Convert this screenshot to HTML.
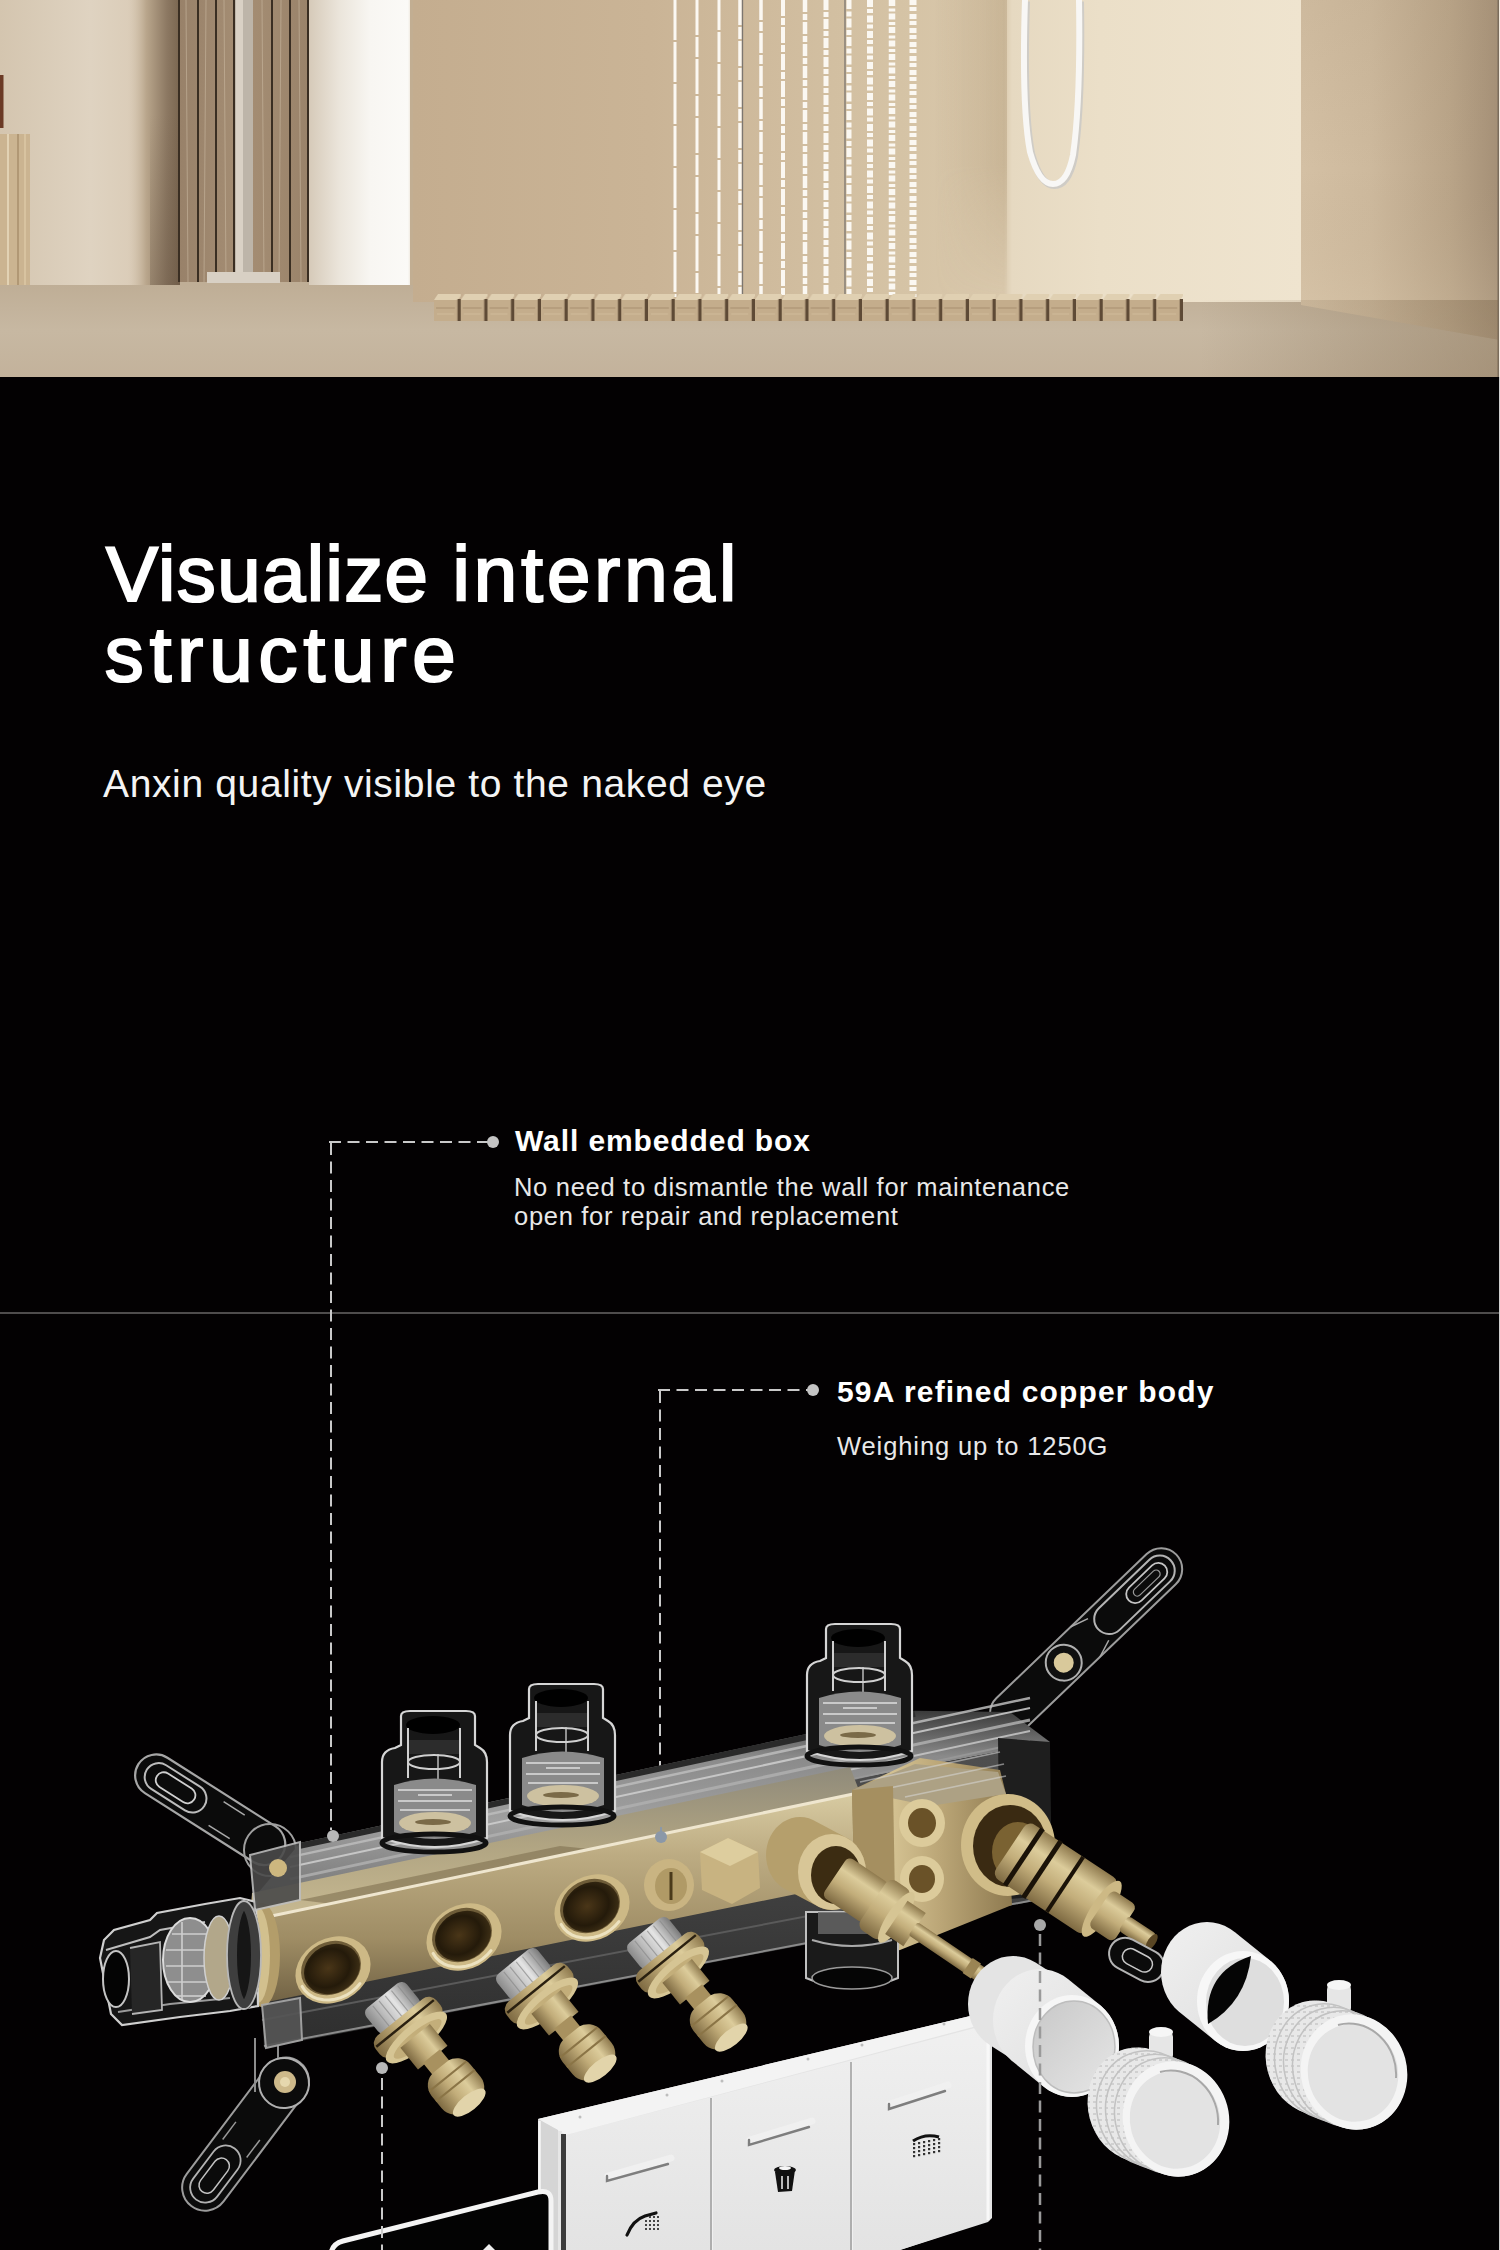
<!DOCTYPE html>
<html><head><meta charset="utf-8">
<style>
html,body{margin:0;padding:0;background:#030102;}
body{width:1500px;height:2250px;overflow:hidden;position:relative;font-family:"Liberation Sans",sans-serif;}
.abs{position:absolute;}
#photo{position:absolute;left:0;top:0;width:1500px;height:377px;}
.hw{position:absolute;color:#fff;font-size:78px;line-height:90px;-webkit-text-stroke:2.2px #fff;white-space:nowrap;}
#sub{position:absolute;left:103px;top:761px;color:#f4f4f4;font-size:39px;line-height:46px;letter-spacing:0.64px;white-space:nowrap;}
.ct{position:absolute;color:#fff;font-size:30px;line-height:34px;font-weight:bold;letter-spacing:0.9px;white-space:nowrap;}
.cd{position:absolute;color:#e8e8e8;font-size:25.5px;line-height:29px;letter-spacing:0.7px;white-space:nowrap;}
#hr{position:absolute;left:0;top:1312px;width:1500px;height:2px;background:#4e4c4c;}
#prod{position:absolute;left:0;top:0;}
</style></head>
<body>
<svg id="photo" width="1500" height="377" viewBox="0 0 1500 377">
  <defs>
    <linearGradient id="lw" x1="0" x2="1" y1="0" y2="0">
      <stop offset="0" stop-color="#d4c5af"/><stop offset="0.5" stop-color="#dfd3c1"/><stop offset="0.72" stop-color="#dbcdb9"/><stop offset="1" stop-color="#d0bfa8"/>
    </linearGradient>
    <linearGradient id="cs" x1="0" x2="1" y1="0" y2="0">
      <stop offset="0" stop-color="#d3c4ae" stop-opacity="0"/><stop offset="0.35" stop-color="#b9a68c"/><stop offset="0.75" stop-color="#8c7862"/><stop offset="1" stop-color="#7a6650"/>
    </linearGradient>
    <linearGradient id="csv" x1="0" x2="0" y1="0" y2="1">
      <stop offset="0" stop-color="#5a4838" stop-opacity="0"/><stop offset="0.4" stop-color="#5a4838" stop-opacity="0"/><stop offset="1" stop-color="#5a4838" stop-opacity="0.3"/>
    </linearGradient>
    <linearGradient id="rw2" x1="0" x2="1" y1="0" y2="0">
      <stop offset="0" stop-color="#d6cab9"/><stop offset="0.3" stop-color="#ebe5db"/><stop offset="0.6" stop-color="#f8f6f2"/><stop offset="0.97" stop-color="#fbfaf7"/><stop offset="1" stop-color="#ece4d8"/>
    </linearGradient>
    <linearGradient id="sw" x1="0" x2="1" y1="0" y2="0">
      <stop offset="0" stop-color="#c4ad8f"/><stop offset="0.266" stop-color="#cab496"/><stop offset="0.547" stop-color="#d5c3a5"/><stop offset="0.664" stop-color="#dac9ad"/><stop offset="0.673" stop-color="#e6d9c1"/><stop offset="0.772" stop-color="#ebdfc8"/><stop offset="1" stop-color="#efe4cf"/>
    </linearGradient>
    <linearGradient id="rw" x1="0" x2="1" y1="0" y2="0">
      <stop offset="0" stop-color="#d4c0a4"/><stop offset="0.35" stop-color="#cdb99d"/><stop offset="0.75" stop-color="#b9a488"/><stop offset="1" stop-color="#a48f76"/>
    </linearGradient>
    <linearGradient id="rwv" x1="0" x2="0" y1="0" y2="1">
      <stop offset="0" stop-color="#a89478" stop-opacity="0.15"/><stop offset="0.5" stop-color="#a89478" stop-opacity="0"/><stop offset="1" stop-color="#e8d8bc" stop-opacity="0.25"/>
    </linearGradient>
    <linearGradient id="fl" gradientUnits="userSpaceOnUse" x1="0" x2="0" y1="285" y2="377">
      <stop offset="0" stop-color="#bfae96"/><stop offset="0.5" stop-color="#c7b8a2"/><stop offset="1" stop-color="#c3b29b"/>
    </linearGradient>
    <linearGradient id="wood" x1="0" x2="1" y1="0" y2="0">
      <stop offset="0" stop-color="#988169"/><stop offset="0.5" stop-color="#a58e74"/><stop offset="1" stop-color="#9a836a"/>
    </linearGradient>
    <linearGradient id="rfl" x1="0" x2="1" y1="0" y2="0">
      <stop offset="0" stop-color="#7a6448" stop-opacity="0"/><stop offset="1" stop-color="#7a6448" stop-opacity="0.4"/>
    </linearGradient>
    <linearGradient id="shb" x1="0" x2="1" y1="0" y2="0">
      <stop offset="0" stop-color="#a08660" stop-opacity="0"/><stop offset="0.75" stop-color="#a08660" stop-opacity="0.22"/><stop offset="1" stop-color="#a08660" stop-opacity="0.3"/>
    </linearGradient>
    <linearGradient id="shm" x1="0" x2="0" y1="0" y2="1">
      <stop offset="0" stop-color="#fff"/><stop offset="0.55" stop-color="#fff"/><stop offset="1" stop-color="#000"/>
    </linearGradient>
    <mask id="shmask" maskUnits="userSpaceOnUse" x="930" y="0" width="80" height="300"><rect x="930" y="0" width="80" height="300" fill="url(#shm)"/></mask>
    <pattern id="matp" x="434" y="0" width="26.75" height="377" patternUnits="userSpaceOnUse">
      <rect x="0" y="300" width="24" height="21" fill="#c4ad8c"/>
      <polygon points="0,300 4,294 28,294 24,300" fill="#e0d0b2"/>
      <rect x="23.5" y="299" width="3.25" height="22" fill="#5e4a36"/>
      <line x1="2" y1="308" x2="21" y2="308" stroke="#a8906f" stroke-width="1"/>
      <line x1="3" y1="314" x2="20" y2="314" stroke="#d0bc9b" stroke-width="1"/>
    </pattern>
  </defs>
  <rect x="0" y="0" width="1500" height="377" fill="url(#fl)"/>
  <rect x="0" y="0" width="180" height="285" fill="url(#lw)"/>
  <rect x="128" y="0" width="52" height="285" fill="url(#cs)"/>
  <rect x="150" y="0" width="30" height="285" fill="url(#csv)"/>
  <rect x="178" y="0" width="131" height="282" fill="url(#wood)"/>
  <g stroke="#3a2e22" stroke-width="2">
    <line x1="179" y1="0" x2="179" y2="282"/><line x1="198" y1="0" x2="198" y2="282"/><line x1="216" y1="0" x2="216" y2="282"/>
    <line x1="234" y1="0" x2="234" y2="282"/><line x1="272" y1="0" x2="272" y2="282"/><line x1="290" y1="0" x2="290" y2="282"/><line x1="308" y1="0" x2="308" y2="282"/>
  </g>
  <g stroke="#c9b8a0" stroke-width="1" opacity="0.6">
    <line x1="186" y1="0" x2="188" y2="282"/><line x1="206" y1="0" x2="204" y2="282"/><line x1="224" y1="0" x2="226" y2="282"/><line x1="262" y1="0" x2="264" y2="282"/><line x1="281" y1="0" x2="279" y2="282"/><line x1="299" y1="0" x2="301" y2="282"/>
  </g>
  <rect x="235" y="0" width="18" height="274" fill="#bdb5a9"/>
  <rect x="236" y="0" width="7" height="274" fill="#d9d1c5"/>
  <rect x="207" y="272" width="73" height="11" fill="#d8d0c4"/>
  <rect x="309" y="0" width="102" height="286" fill="url(#rw2)"/>
  <rect x="0" y="134" width="30" height="181" fill="#cbb491"/>
  <line x1="8" y1="134" x2="8" y2="315" stroke="#e2d2b4" stroke-width="2"/>
  <line x1="18" y1="134" x2="18" y2="315" stroke="#a88f6c" stroke-width="1.5"/>
  <line x1="25" y1="134" x2="25" y2="315" stroke="#dcc8a6" stroke-width="1.5"/>
  <rect x="0" y="75" width="3.5" height="53" fill="#6b3a25"/>
  <rect x="413" y="0" width="890" height="302" fill="url(#sw)"/>
  <rect x="410" y="0" width="3" height="302" fill="#c2ae92"/>
  <rect x="935" y="0" width="72" height="300" fill="url(#shb)" mask="url(#shmask)"/>
  <polygon points="1301,0 1500,0 1500,340 1301,305" fill="url(#rw)"/>
  <polygon points="1301,0 1500,0 1500,340 1301,305" fill="url(#rwv)"/>
  <rect x="1497.5" y="0" width="1.5" height="377" fill="#7a6c5c"/><rect x="1499" y="0" width="1" height="377" fill="#f2e9dd"/>
  <g stroke="#fbf8f2" stroke-linecap="butt"><line x1="675" y1="0" x2="675" y2="297" stroke-width="3" stroke-dasharray="40,2"/><line x1="697" y1="0" x2="697" y2="297" stroke-width="3" stroke-dasharray="35,2,20,2"/><line x1="719" y1="0" x2="719" y2="297" stroke-width="3" stroke-dasharray="30,2"/><line x1="740" y1="0" x2="740" y2="297" stroke-width="3.5" stroke-dasharray="25,2,12,2"/><line x1="761" y1="0" x2="761" y2="297" stroke-width="3.5" stroke-dasharray="20,2,9,2"/><line x1="783" y1="0" x2="783" y2="297" stroke-width="4" stroke-dasharray="16,2,7,2"/><line x1="805" y1="0" x2="805" y2="297" stroke-width="4.5" stroke-dasharray="12,2,6,2"/><line x1="826" y1="0" x2="826" y2="297" stroke-width="5" stroke-dasharray="10,2,5,2"/><line x1="849" y1="0" x2="849" y2="297" stroke-width="5" stroke-dasharray="9,2.5,5,2"/><line x1="870" y1="0" x2="870" y2="297" stroke-width="6" stroke-dasharray="7,2,4,2.5"/><line x1="892" y1="0" x2="892" y2="297" stroke-width="6.5" stroke-dasharray="6,2.5,3,2"/><line x1="913" y1="0" x2="913" y2="297" stroke-width="7" stroke-dasharray="5,2,4,3"/></g>
  <g stroke="#7c7670" stroke-width="1.3">
    <line x1="742.5" y1="0" x2="742.5" y2="296"/><line x1="845" y1="0" x2="845" y2="296"/>
  </g>
  <path d="M1025,0 C1023,60 1024,120 1030,152 Q1039,184 1053,184 Q1067,184 1073,155 C1078,120 1080,60 1079,0" fill="none" stroke="#cfccc6" stroke-width="7" transform="translate(1.5,1.5)"/>
  <path d="M1025,0 C1023,60 1024,120 1030,152 Q1039,184 1053,184 Q1067,184 1073,155 C1078,120 1080,60 1079,0" fill="none" stroke="#f8f7f5" stroke-width="6"/>
  <rect x="0" y="285" width="413" height="92" fill="url(#fl)"/>
  <rect x="434" y="290" width="749" height="35" fill="url(#matp)"/>
  <rect x="1200" y="300" width="298" height="77" fill="url(#rfl)"/>
</svg>

<div class="hw" style="left:106px;top:528.5px;letter-spacing:1.4px;">Visualize</div>
<div class="hw" style="left:452.5px;top:528.5px;letter-spacing:4px;">internal</div>
<div class="hw" style="left:104.7px;top:609px;letter-spacing:5.95px;">structure</div>
<div id="sub">Anxin quality visible to the naked eye</div>

<div class="ct" style="left:515px;top:1124px;">Wall embedded box</div>
<div class="cd" style="left:514px;top:1173px;">No need to dismantle the wall for maintenance<br>open for repair and replacement</div>

<div id="hr"></div>

<div class="ct" style="left:837px;top:1375px;letter-spacing:1.17px;">59A refined copper body</div>
<div class="cd" style="left:837px;top:1432px;letter-spacing:0.9px;">Weighing up to 1250G</div>

<svg id="prod" width="1500" height="2250" viewBox="0 0 1500 2250">
  <defs>
    <linearGradient id="brassV" x1="0" x2="0" y1="0" y2="1">
      <stop offset="0" stop-color="#d8cba2"/><stop offset="0.3" stop-color="#bcab82"/><stop offset="0.7" stop-color="#9e8c64"/><stop offset="1" stop-color="#716244"/>
    </linearGradient>
    <linearGradient id="brassH" x1="0" x2="1" y1="0" y2="0">
      <stop offset="0" stop-color="#9a8458"/><stop offset="0.25" stop-color="#d4c292"/><stop offset="0.55" stop-color="#bba677"/><stop offset="1" stop-color="#8e7a50"/>
    </linearGradient>
    <linearGradient id="brassP" x1="0" x2="0" y1="0" y2="1">
      <stop offset="0" stop-color="#8f7a4e"/><stop offset="0.3" stop-color="#dccc9b"/><stop offset="0.6" stop-color="#c2ad7a"/><stop offset="1" stop-color="#7e6a42"/>
    </linearGradient>
    <linearGradient id="brassT" x1="0" x2="0" y1="0" y2="1">
      <stop offset="0" stop-color="#8f8a7a"/><stop offset="0.5" stop-color="#b0a482"/><stop offset="1" stop-color="#c8ba92"/>
    </linearGradient>
    <linearGradient id="housF" x1="0" x2="0" y1="0" y2="1">
      <stop offset="0" stop-color="#505050"/><stop offset="1" stop-color="#2e2e2e"/>
    </linearGradient>
    <linearGradient id="housT" x1="0" x2="0" y1="0" y2="1">
      <stop offset="0" stop-color="#3a3a3a"/><stop offset="0.25" stop-color="#8a8a8a"/><stop offset="0.6" stop-color="#a0a0a0"/><stop offset="1" stop-color="#7a7a7a"/>
    </linearGradient>
    <radialGradient id="holeG" cx="0.45" cy="0.45" r="0.55">
      <stop offset="0" stop-color="#4a3618"/><stop offset="0.7" stop-color="#241a0a"/><stop offset="1" stop-color="#3a2c14"/>
    </radialGradient>
    <linearGradient id="silverG" x1="0" x2="0" y1="0" y2="1">
      <stop offset="0" stop-color="#7c7c7c"/><stop offset="0.4" stop-color="#e4e4e4"/><stop offset="0.7" stop-color="#bdbdbd"/><stop offset="1" stop-color="#8a8a8a"/>
    </linearGradient>
    <linearGradient id="whiteB" x1="0" x2="1" y1="0" y2="1">
      <stop offset="0" stop-color="#f0f0f0"/><stop offset="0.5" stop-color="#e6e6e6"/><stop offset="1" stop-color="#d2d2d2"/>
    </linearGradient>
    <linearGradient id="whiteI" x1="0" x2="1" y1="0" y2="1">
      <stop offset="0" stop-color="#c8c8c8"/><stop offset="1" stop-color="#e6e6e6"/>
    </linearGradient>
    <linearGradient id="panelG" x1="0" x2="0" y1="0" y2="1">
      <stop offset="0" stop-color="#f0f0f0"/><stop offset="1" stop-color="#e3e3e3"/>
    </linearGradient>
    <pattern id="knurl" width="6" height="6" patternUnits="userSpaceOnUse">
      <rect width="6" height="6" fill="#e9e9e9"/><rect x="1" y="1" width="3" height="2" fill="#c4c4c4"/>
    </pattern>
  </defs>

  <g fill="none" stroke="#c9c9c9" stroke-width="2">
    <path d="M329,1142 H489" stroke-dasharray="12,6.5"/>
    <path d="M331,1143 V1830" stroke-dasharray="12,6.5"/>
    <path d="M658,1390 H808" stroke-dasharray="12,6.5"/>
    <path d="M660,1391 V1830" stroke-dasharray="12,6.5"/>
  </g>
  <circle cx="493" cy="1142" r="6" fill="#c4c4c4"/>
  <circle cx="813" cy="1390" r="6" fill="#c4c4c4"/>

  <g transform="translate(1006,1718) rotate(-43.8)">
    <rect x="-14" y="-21" width="250" height="42" rx="21" fill="#0b0b0b" stroke="#9c9c9c" stroke-width="2"/>
    <rect x="128" y="-15" width="100" height="30" rx="15" fill="none" stroke="#b4b4b4" stroke-width="2"/>
    <rect x="170" y="-9" width="50" height="18" rx="9" fill="none" stroke="#c4c4c4" stroke-width="1.8"/>
    <rect x="178" y="-4" width="34" height="8" rx="4" fill="none" stroke="#999" stroke-width="1.2"/>
    <line x1="128" y1="-15" x2="110" y2="-21" stroke="#aaa" stroke-width="1.5"/>
    <line x1="128" y1="15" x2="110" y2="21" stroke="#aaa" stroke-width="1.5"/>
    <circle cx="80" cy="0" r="18" fill="#101010" stroke="#b0b0b0" stroke-width="2"/>
    <circle cx="80" cy="0" r="10" fill="#d9c99b"/>
  </g>

  <g transform="translate(157,1776) rotate(32.4)">
    <rect x="-22" y="-21" width="170" height="42" rx="21" fill="#0b0b0b" stroke="#a6a6a6" stroke-width="2.2"/>
    <rect x="-12" y="-14" width="68" height="28" rx="14" fill="none" stroke="#bcbcbc" stroke-width="2"/>
    <rect x="0" y="-8" width="44" height="16" rx="8" fill="none" stroke="#cfcfcf" stroke-width="1.8"/>
    <line x1="70" y1="-14" x2="95" y2="-14" stroke="#aaa" stroke-width="1.5"/>
    <line x1="70" y1="14" x2="95" y2="14" stroke="#aaa" stroke-width="1.5"/>
  </g>
  <circle cx="270" cy="1850" r="26" fill="none" stroke="#a0a0a0" stroke-width="2"/>

  <g transform="translate(284,2083) rotate(127)">
    <rect x="-26" y="-23" width="180" height="46" rx="23" fill="#0b0b0b" stroke="#9c9c9c" stroke-width="2"/>
    <rect x="82" y="-15" width="64" height="30" rx="15" fill="none" stroke="#b2b2b2" stroke-width="1.8"/>
    <rect x="96" y="-8" width="40" height="16" rx="8" fill="none" stroke="#c2c2c2" stroke-width="1.5"/>
    <line x1="60" y1="-15" x2="82" y2="-15" stroke="#999" stroke-width="1.5"/>
    <line x1="60" y1="15" x2="82" y2="15" stroke="#999" stroke-width="1.5"/>
    <circle cx="0" cy="0" r="25" fill="#0b0b0b" stroke="#b0b0b0" stroke-width="2"/>
  </g>
  <circle cx="285" cy="2082" r="11" fill="#cdb98a"/>
  <circle cx="285" cy="2082" r="5" fill="#e6d8ae"/>
  <g stroke="#8c8c8c" stroke-width="2"><line x1="255" y1="2038" x2="255" y2="2092"/><line x1="278" y1="2035" x2="278" y2="2058"/></g>

<path d="M300,1842.9 L915,1710.7 L1010,1712 L1050,1742 L258,1893 Z" fill="url(#housT)"/>
<path d="M258,1893 L1050,1742 L1050,1898 L264,2048 Z" fill="url(#housF)"/>
<g opacity="0.85"><line x1="290" y1="1857.1" x2="1030" y2="1698" stroke="#bdbdbd" stroke-width="2.5"/><line x1="290" y1="1867.1" x2="1030" y2="1708" stroke="#d0d0d0" stroke-width="2"/><line x1="290" y1="1879.1" x2="1030" y2="1720" stroke="#b0b0b0" stroke-width="3"/><line x1="290" y1="1890.1" x2="1030" y2="1731" stroke="#c8c8c8" stroke-width="2"/><line x1="290" y1="1900.1" x2="1030" y2="1741" stroke="#9a9a9a" stroke-width="2"/></g>
<line x1="300" y1="1845.9" x2="915" y2="1713.7" stroke="#2a2a2a" stroke-width="6"/>
<line x1="264" y1="2046" x2="1050" y2="1897" stroke="#8a8a8a" stroke-width="2"/>
<line x1="262" y1="2020" x2="1050" y2="1870" stroke="#5a5a5a" stroke-width="2"/>
<path d="M998,1738 L1050,1742 L1052,1895 L1000,1900 Z" fill="#1e1e1e"/>
<path d="M252,1893 L850,1767 L860,1793 L250,1921 Z" fill="url(#brassT)"/>
<path d="M300,1900 L560,1846 L600,1850 L340,1905 Z" fill="#7e7050" opacity="0.6"/>
<path d="M250,1921 L860,1793 L860,1881 L262,2003 Z" fill="url(#brassV)"/>
<line x1="262" y1="1918" x2="858" y2="1793" stroke="#efe6cf" stroke-width="3"/>
<ellipse cx="262" cy="1955" rx="18" ry="52" fill="#b39d6a"/>
<ellipse cx="258" cy="1955" rx="12" ry="48" fill="#d2c08e"/>
<path d="M852,1790 L920,1758 L1000,1770 L1006,1794 L1012,1905 L900,1950 L856,1960 Z" fill="url(#brassH)"/>
<path d="M852,1790 L915,1764 L998,1772 L1006,1794 L930,1806 Z" fill="#ada184"/>
<g stroke="#d8d8d8" stroke-width="1.6" opacity="0.55"><line x1="860" y1="1782" x2="1000" y2="1752"/><line x1="880" y1="1790" x2="1004" y2="1764"/><line x1="905" y1="1797" x2="1006" y2="1776"/></g>
<path d="M852,1790 L893,1786 L896,1955 L856,1960 Z" fill="#a58f60"/>
<ellipse cx="333" cy="1970" rx="39" ry="32" transform="rotate(-28 333 1970)" fill="#cdb986"/>
<ellipse cx="331" cy="1968" rx="31" ry="26" transform="rotate(-28 331 1968)" fill="#6e5c38"/>
<ellipse cx="332" cy="1969" rx="29" ry="24" transform="rotate(-28 332 1969)" fill="url(#holeG)"/>
<polyline points="360,1983.6 356.1,1988 351.5,1991.9 346.4,1995.2 340.8,1997.6 335,1999.3 329.1,2000 323.4,1999.8 317.9,1998.8 312.9,1996.8 308.5,1994 304.9,1990.6 302.1,1986.4" stroke="#ece2c0" stroke-width="3" fill="none" stroke-linecap="round"/>
<ellipse cx="464" cy="1937" rx="39" ry="32" transform="rotate(-28 464 1937)" fill="#cdb986"/>
<ellipse cx="462" cy="1935" rx="31" ry="26" transform="rotate(-28 462 1935)" fill="#6e5c38"/>
<ellipse cx="463" cy="1936" rx="29" ry="24" transform="rotate(-28 463 1936)" fill="url(#holeG)"/>
<polyline points="491,1950.6 487.1,1955 482.5,1958.9 477.4,1962.2 471.8,1964.6 466,1966.3 460.1,1967 454.4,1966.8 448.9,1965.8 443.9,1963.8 439.5,1961 435.9,1957.6 433.1,1953.4" stroke="#ece2c0" stroke-width="3" fill="none" stroke-linecap="round"/>
<ellipse cx="592" cy="1908" rx="39" ry="32" transform="rotate(-28 592 1908)" fill="#cdb986"/>
<ellipse cx="590" cy="1906" rx="31" ry="26" transform="rotate(-28 590 1906)" fill="#6e5c38"/>
<ellipse cx="591" cy="1907" rx="29" ry="24" transform="rotate(-28 591 1907)" fill="url(#holeG)"/>
<polyline points="619,1921.6 615.1,1926 610.5,1929.9 605.4,1933.2 599.8,1935.6 594,1937.3 588.1,1938 582.4,1937.8 576.9,1936.8 571.9,1934.8 567.5,1932 563.9,1928.6 561.1,1924.4" stroke="#ece2c0" stroke-width="3" fill="none" stroke-linecap="round"/>
<ellipse cx="669" cy="1885" rx="25" ry="26" fill="#c9b482"/>
<ellipse cx="671" cy="1886" rx="16" ry="18" fill="#b09a66"/>
<line x1="671" y1="1872" x2="671" y2="1900" stroke="#4a3a1a" stroke-width="3"/>
<path d="M700,1852 L728,1838 L758,1852 L760,1888 L732,1904 L702,1890 Z" fill="#c8b381"/>
<path d="M700,1852 L728,1838 L758,1852 L730,1866 Z" fill="#ddcd9e"/>
<ellipse cx="922" cy="1823" rx="23" ry="24" fill="#dccb9b"/>
<ellipse cx="922" cy="1823" rx="14" ry="15" fill="#6a5228"/>
<ellipse cx="922" cy="1879" rx="22" ry="23" fill="#dccb9b"/>
<ellipse cx="922" cy="1879" rx="13" ry="14" fill="#6a5228"/>
<ellipse cx="1008" cy="1845" rx="47" ry="51" fill="#d0bc88"/>
<ellipse cx="1010" cy="1846" rx="37" ry="41" fill="#3a2a12"/>
<ellipse cx="1018" cy="1852" rx="26" ry="30" fill="#7a6232"/>
  <g id="capA">
    <path d="M382,1762 Q382,1750 395,1748 L401,1745 L401,1716 Q401,1711 410,1711 L466,1711 Q475,1711 475,1716 L475,1745 L480,1748 Q487,1752 487,1762 L487,1838 Q435,1856 382,1838 Z" fill="#171717" stroke="#d6d6d6" stroke-width="2.2"/>
    <ellipse cx="433" cy="1725" rx="27" ry="9" fill="#000"/>
    <line x1="408" y1="1728" x2="408" y2="1778" stroke="#d0d0d0" stroke-width="2"/>
    <line x1="460" y1="1728" x2="460" y2="1778" stroke="#d0d0d0" stroke-width="2"/>
    <line x1="438" y1="1740" x2="438" y2="1790" stroke="#bbb" stroke-width="1.5"/>
    <rect x="409" y="1740" width="50" height="14" fill="#2c2c2c"/>
    <ellipse cx="434" cy="1762" rx="26" ry="7" fill="none" stroke="#d0d0d0" stroke-width="2"/>
    <path d="M394,1785 Q434,1772 476,1785 L476,1832 Q434,1846 394,1832 Z" fill="#8a8a8a"/>
    <g stroke="#d4d4d4" stroke-width="2" opacity="0.85"><line x1="398" y1="1790" x2="472" y2="1790"/><line x1="398" y1="1801" x2="472" y2="1801"/><line x1="418" y1="1795" x2="452" y2="1795"/><line x1="400" y1="1810" x2="470" y2="1810"/></g>
    <ellipse cx="435" cy="1823" rx="36" ry="11" fill="#cdc1a0"/>
    <ellipse cx="433" cy="1822" rx="18" ry="3" fill="#7a6a48"/>
    <ellipse cx="434" cy="1843" rx="52" ry="9" fill="none" stroke="#111" stroke-width="5"/>
  </g>
  <use href="#capA" transform="translate(128,-27)"/>
  <use href="#capA" transform="translate(425,-87)"/>

  <path d="M806,1912 L898,1912 L898,1978 Q852,1998 806,1978 Z" fill="#1a1a1a" stroke="#c0c0c0" stroke-width="2"/>
  <ellipse cx="852" cy="1978" rx="40" ry="11" fill="#050505" stroke="#9a9a9a" stroke-width="1.5"/>
  <path d="M812,1940 Q852,1952 892,1940" fill="none" stroke="#aaa" stroke-width="2"/>
  <rect x="818" y="1912" width="70" height="22" fill="#6a6a6a" opacity="0.8"/>

<path d="M766,1855 L766.3,1850 L767.2,1845.2 L768.6,1840.5 L770.6,1836 L773,1831.9 L776,1828.1 L779.3,1824.9 L783,1822.1 L787,1819.9 L791.2,1818.3 L795.6,1817.3 L800,1817 L804.4,1817.3 L808.8,1818.3 L813,1819.9 L845,1836.9 L849,1839.1 L852.7,1841.9 L856,1845.1 L859,1848.9 L861.4,1853 L863.4,1857.5 L864.8,1862.2 L865.7,1867 L866,1872 L865.7,1877 L864.8,1881.8 L863.4,1886.5 L861.4,1891 L859,1895.1 L856,1898.9 L852.7,1902.1 L849,1904.9 L845,1907.1 L840.8,1908.7 L836.4,1909.7 L832,1910 L827.6,1909.7 L823.2,1908.7 L819,1907.1 L787,1890.1 L783,1887.9 L779.3,1885.1 L776,1881.9 L773,1878.1 L770.6,1874 L768.6,1869.5 L767.2,1864.8 L766.3,1860 Z" fill="#b59f6c"/>
<ellipse cx="832" cy="1872" rx="34" ry="38" fill="#d8c697"/>
<ellipse cx="836" cy="1875" rx="25" ry="29" fill="#3c2c12"/>
<g transform="translate(835,1876) rotate(34)"><rect x="0" y="-24" width="50" height="48" rx="6" fill="url(#brassP)"/><rect x="46" y="-30" width="28" height="60" rx="8" fill="url(#brassP)"/><ellipse cx="74" cy="0" rx="9" ry="30" fill="#d6c594"/><rect x="74" y="-20" width="22" height="40" fill="url(#brassP)"/><rect x="94" y="-8" width="95" height="16" rx="3" fill="url(#brassP)"/><rect x="160" y="-9" width="10" height="18" fill="#9a8454"/></g>
<g transform="translate(1010,1848) rotate(33.5)"><rect x="0" y="-33" width="110" height="66" rx="8" fill="url(#brassP)"/><rect x="14" y="-34" width="5" height="68" fill="#1a1208"/><rect x="36" y="-34" width="5" height="68" fill="#1a1208"/><rect x="64" y="-33" width="4" height="66" fill="#1a1208"/><ellipse cx="110" cy="0" rx="10" ry="33" fill="#cdb985"/><rect x="108" y="-22" width="30" height="44" rx="6" fill="url(#brassP)"/><rect x="136" y="-9" width="34" height="18" rx="4" fill="url(#brassP)"/><ellipse cx="170" cy="0" rx="4" ry="9" fill="#5a4624"/></g>
  <g transform="translate(1118,1950) rotate(28)">
    <rect x="-8" y="-16" width="58" height="32" rx="16" fill="#0b0b0b" stroke="#b4b4b4" stroke-width="2"/>
    <rect x="6" y="-8" width="32" height="16" rx="8" fill="none" stroke="#c8c8c8" stroke-width="1.5"/>
  </g>

  <path d="M100,1958 L104,1940 L114,1930 L150,1920 L157,1913 L205,1904 L240,1898 L256,1902 L258,2006 L230,2011 L180,2017 L122,2025 L111,2014 Z" fill="#161616" stroke="#cfcfcf" stroke-width="2.2"/>
  <path d="M106,1950 L150,1937 L160,1930 L205,1922" fill="none" stroke="#bdbdbd" stroke-width="2"/>
  <path d="M118,2012 L170,2004 L230,1998" fill="none" stroke="#9a9a9a" stroke-width="2"/>
  <ellipse cx="116" cy="1979" rx="13" ry="28" fill="#040404" stroke="#c4c4c4" stroke-width="2"/>
  <path d="M130,1948 L160,1942 L162,2010 L132,2014" fill="#262626" stroke="#b4b4b4" stroke-width="1.8"/>
  <ellipse cx="190" cy="1960" rx="27" ry="42" fill="#8e8e8e" stroke="#dcdcdc" stroke-width="2"/>
  <g stroke="#d6d6d6" stroke-width="1.6" opacity="0.9"><line x1="172" y1="1934" x2="208" y2="1934"/><line x1="166" y1="1950" x2="214" y2="1950"/><line x1="166" y1="1966" x2="214" y2="1966"/><line x1="168" y1="1982" x2="212" y2="1982"/><line x1="176" y1="1996" x2="206" y2="1996"/><line x1="182" y1="1922" x2="182" y2="2000"/></g>
  <ellipse cx="219" cy="1958" rx="15" ry="42" fill="#b2a78a" stroke="#d0d0d0" stroke-width="1.5"/>
  <ellipse cx="244" cy="1955" rx="12" ry="50" fill="none" stroke="#3e3e3e" stroke-width="10"/>
  <ellipse cx="244" cy="1955" rx="17" ry="54" fill="none" stroke="#b8b8b8" stroke-width="1.8"/>

  <path d="M250,1855 L300,1842 L300,1900 L255,1910 Z" fill="#4a4a4a" stroke="#bdbdbd" stroke-width="2" opacity="0.9"/>
  <circle cx="278" cy="1868" r="9" fill="#cdb77f"/>
  <path d="M262,2005 L300,1998 L302,2040 L266,2048 Z" fill="#555" stroke="#aaa" stroke-width="2" opacity="0.9"/>

  <g id="valve">
    <g transform="translate(395,2011) rotate(51)">
      <rect x="-20" y="-26" width="32" height="52" rx="7" fill="url(#silverG)"/>
      <g stroke="#8a8a8a" stroke-width="1.2" opacity="0.7"><line x1="-18" y1="-18" x2="10" y2="-18"/><line x1="-18" y1="-10" x2="10" y2="-10"/><line x1="-18" y1="-2" x2="10" y2="-2"/><line x1="-18" y1="6" x2="10" y2="6"/><line x1="-18" y1="14" x2="10" y2="14"/></g>
      <rect x="8" y="-39" width="26" height="78" rx="10" fill="url(#brassP)"/>
      <line x1="16" y1="-37" x2="16" y2="37" stroke="#2a2010" stroke-width="2.5"/>
      <ellipse cx="34" cy="0" rx="13" ry="38" fill="#d6c594"/>
      <ellipse cx="36" cy="0" rx="8" ry="30" fill="#c3ae7a"/>
      <rect x="32" y="-19" width="28" height="38" fill="url(#brassP)"/>
      <rect x="58" y="-11" width="18" height="22" fill="#a8915f"/>
      <rect x="72" y="-25" width="50" height="50" rx="17" fill="url(#brassP)"/>
      <line x1="84" y1="-24" x2="84" y2="24" stroke="#8a7446" stroke-width="2"/>
      <line x1="96" y1="-25" x2="96" y2="25" stroke="#8a7446" stroke-width="2"/>
      <ellipse cx="118" cy="0" rx="8" ry="20" fill="#e2d4aa"/>
    </g>
  </g>
  <use href="#valve" transform="translate(131,-34)"/>
  <use href="#valve" transform="translate(262,-65)"/>

  <polygon points="538,2119 987,2012 992,2022 992,2218 988,2222 900,2250 538,2250" fill="#e4e4e4"/>
  <polygon points="566,2135 990,2024 990,2220 900,2250 566,2250" fill="url(#panelG)"/>
  <polygon points="538,2119 987,2012 992,2022 566,2135" fill="#f3f3f3"/>
  <polygon points="538,2119 558,2130 558,2250 538,2250" fill="#d5d5d5"/>
  <line x1="539.5" y1="2121" x2="539.5" y2="2250" stroke="#f6f6f6" stroke-width="2.5"/>
  <rect x="558" y="2131" width="4" height="119" fill="#e6e6e6"/>
  <rect x="561" y="2134" width="5" height="116" fill="#3c3c3c"/>
  <line x1="988" y1="2022" x2="988" y2="2220" stroke="#f8f8f8" stroke-width="3"/>
  <line x1="711" y1="2098" x2="711" y2="2250" stroke="#9c9c9c" stroke-width="1.5"/>
  <line x1="712.5" y1="2098" x2="712.5" y2="2250" stroke="#f0f0f0" stroke-width="1"/>
  <line x1="851" y1="2062" x2="851" y2="2250" stroke="#9c9c9c" stroke-width="1.5"/>
  <line x1="852.5" y1="2062" x2="852.5" y2="2250" stroke="#f0f0f0" stroke-width="1"/>
  <g fill="#bdbdbd"><circle cx="580" cy="2117" r="1.5"/><circle cx="667" cy="2095" r="1.5"/><circle cx="722" cy="2081" r="1.5"/><circle cx="808" cy="2059" r="1.5"/><circle cx="862" cy="2045" r="1.5"/><circle cx="944" cy="2024" r="1.5"/></g>
  <g stroke="#f0f0f0" stroke-width="7" stroke-linecap="round">
    <line x1="608" y1="2176" x2="671" y2="2158"/>
    <line x1="750" y1="2140" x2="812" y2="2121"/>
    <line x1="890" y1="2104" x2="948" y2="2085"/>
  </g>
  <g stroke="#7e7e7e" stroke-width="2.4" stroke-linecap="round" fill="none">
    <path d="M607,2176 L607,2181 L668,2164"/>
    <path d="M749,2140 L749,2145 L809,2127"/>
    <path d="M889,2104 L889,2109 L945,2091"/>
  </g>

<path d="M331,2262 L331,2254 Q332,2244 343,2241 L538,2192 Q551,2189 551,2201 L551,2262 Z" fill="#030303" stroke="#f4f4f4" stroke-width="5"/>
<path d="M483,2250 L489,2244 L495,2250 Z" fill="#eee"/>
  <path d="M627,2235 Q633,2220 645,2216 L656,2213" stroke="#111" stroke-width="3.2" fill="none" stroke-linecap="round"/>
  <g fill="#444"><rect x="645" y="2220" width="2" height="2"/><rect x="645" y="2224" width="2" height="2"/><rect x="645" y="2228" width="2" height="2"/><rect x="649" y="2216" width="2" height="2"/><rect x="649" y="2220" width="2" height="2"/><rect x="649" y="2224" width="2" height="2"/><rect x="649" y="2228" width="2" height="2"/><rect x="653" y="2216" width="2" height="2"/><rect x="653" y="2220" width="2" height="2"/><rect x="653" y="2224" width="2" height="2"/><rect x="653" y="2228" width="2" height="2"/><rect x="657" y="2216" width="2" height="2"/><rect x="657" y="2220" width="2" height="2"/><rect x="657" y="2224" width="2" height="2"/><rect x="657" y="2228" width="2" height="2"/></g>
  <path d="M775,2172 L795,2170 L792,2191 L778,2192 Z" fill="#111"/>
  <ellipse cx="785" cy="2170" rx="11" ry="4" fill="#111"/>
  <ellipse cx="785" cy="2168" rx="6" ry="2" fill="#f5f5f5"/>
  <g stroke="#f5f5f5" stroke-width="1.5"><line x1="782" y1="2176" x2="782" y2="2189"/><line x1="788" y1="2176" x2="788" y2="2189"/></g>
  <path d="M913,2141 Q925,2133 939,2137" stroke="#111" stroke-width="3" fill="none"/>
  <g fill="#333"><rect x="913" y="2143" width="2.2" height="2.2"/><rect x="913" y="2147" width="2.2" height="2.2"/><rect x="913" y="2151" width="2.2" height="2.2"/><rect x="913" y="2155" width="2.2" height="2.2"/><rect x="918" y="2142" width="2.2" height="2.2"/><rect x="918" y="2146" width="2.2" height="2.2"/><rect x="918" y="2150" width="2.2" height="2.2"/><rect x="918" y="2154" width="2.2" height="2.2"/><rect x="923" y="2141" width="2.2" height="2.2"/><rect x="923" y="2145" width="2.2" height="2.2"/><rect x="923" y="2149" width="2.2" height="2.2"/><rect x="923" y="2153" width="2.2" height="2.2"/><rect x="928" y="2140" width="2.2" height="2.2"/><rect x="928" y="2144" width="2.2" height="2.2"/><rect x="928" y="2148" width="2.2" height="2.2"/><rect x="928" y="2152" width="2.2" height="2.2"/><rect x="933" y="2139" width="2.2" height="2.2"/><rect x="933" y="2143" width="2.2" height="2.2"/><rect x="933" y="2147" width="2.2" height="2.2"/><rect x="933" y="2151" width="2.2" height="2.2"/><rect x="938" y="2138" width="2.2" height="2.2"/><rect x="938" y="2142" width="2.2" height="2.2"/><rect x="938" y="2146" width="2.2" height="2.2"/><rect x="938" y="2150" width="2.2" height="2.2"/></g>

<path d="M968,2004 L968.4,1997.7 L969.5,1991.6 L971.4,1985.6 L974,1980 L977.3,1974.8 L981.2,1970.1 L985.6,1965.9 L990.5,1962.4 L995.8,1959.7 L1001.4,1957.6 L1007.1,1956.4 L1013,1956 L1018.9,1956.4 L1024.6,1957.6 L1030.2,1959.7 L1035.5,1962.4 L1057.5,1976.4 L1062.4,1979.9 L1066.8,1984.1 L1070.7,1988.8 L1074,1994 L1076.6,1999.6 L1078.5,2005.6 L1079.6,2011.7 L1080,2018 L1079.6,2024.3 L1078.5,2030.4 L1076.6,2036.4 L1074,2042 L1070.7,2047.2 L1066.8,2051.9 L1062.4,2056.1 L1057.5,2059.6 L1052.2,2062.3 L1046.6,2064.4 L1040.9,2065.6 L1035,2066 L1029.1,2065.6 L1023.4,2064.4 L1017.8,2062.3 L1012.5,2059.6 L990.5,2045.6 L985.6,2042.1 L981.2,2037.9 L977.3,2033.2 L974,2028 L971.4,2022.4 L969.5,2016.4 L968.4,2010.3 Z" fill="#e4e4e4"/>
<path d="M993,2020 L993.4,2013.3 L994.6,2006.8 L996.6,2000.5 L999.3,1994.5 L1002.7,1989 L1006.8,1983.9 L1011.4,1979.5 L1016.5,1975.8 L1022,1972.9 L1027.8,1970.7 L1033.9,1969.4 L1040,1969 L1046.1,1969.4 L1052.2,1970.7 L1058,1972.9 L1063.5,1975.8 L1068.6,1979.5 L1100.6,2005.5 L1105.2,2009.9 L1109.3,2015 L1112.7,2020.5 L1115.4,2026.5 L1117.4,2032.8 L1118.6,2039.3 L1119,2046 L1118.6,2052.7 L1117.4,2059.2 L1115.4,2065.5 L1112.7,2071.5 L1109.3,2077 L1105.2,2082.1 L1100.6,2086.5 L1095.5,2090.2 L1090,2093.1 L1084.2,2095.3 L1078.1,2096.6 L1072,2097 L1065.9,2096.6 L1059.8,2095.3 L1054,2093.1 L1048.5,2090.2 L1043.4,2086.5 L1011.4,2060.5 L1006.8,2056.1 L1002.7,2051 L999.3,2045.5 L996.6,2039.5 L994.6,2033.2 L993.4,2026.7 Z" fill="url(#whiteB)"/>
<ellipse cx="1072" cy="2046" rx="47" ry="51" fill="#f6f6f6"/>
<ellipse cx="1074" cy="2047" rx="41" ry="46" fill="url(#whiteI)"/>
<ellipse cx="1074" cy="2047" rx="41" ry="46" fill="none" stroke="#bdbdbd" stroke-width="1.5"/>
<path d="M1161,1972 L1161.4,1965.5 L1162.6,1959.1 L1164.5,1952.9 L1167.2,1947 L1170.5,1941.6 L1174.5,1936.6 L1179,1932.3 L1184,1928.7 L1189.4,1925.8 L1195.1,1923.7 L1201,1922.4 L1207,1922 L1213,1922.4 L1218.9,1923.7 L1224.6,1925.8 L1230,1928.7 L1235,1932.3 L1271,1961.3 L1275.5,1965.6 L1279.5,1970.6 L1282.8,1976 L1285.5,1981.9 L1287.4,1988.1 L1288.6,1994.5 L1289,2001 L1288.6,2007.5 L1287.4,2013.9 L1285.5,2020.1 L1282.8,2026 L1279.5,2031.4 L1275.5,2036.4 L1271,2040.7 L1266,2044.3 L1260.6,2047.2 L1254.9,2049.3 L1249,2050.6 L1243,2051 L1237,2050.6 L1231.1,2049.3 L1225.4,2047.2 L1220,2044.3 L1215,2040.7 L1179,2011.7 L1174.5,2007.4 L1170.5,2002.4 L1167.2,1997 L1164.5,1991.1 L1162.6,1984.9 L1161.4,1978.5 Z" fill="url(#whiteB)"/>
<ellipse cx="1243" cy="2001" rx="46" ry="50" fill="#f7f7f7"/>
<ellipse cx="1245" cy="2002" rx="39" ry="44" fill="#dedede"/>
<path d="M1251,1956 Q1203,1972 1208,2024 Q1246,2002 1251,1956 Z" fill="#050505"/>
<rect x="1149" y="2029" width="24" height="34" rx="8" fill="#e6e6e6"/><ellipse cx="1161" cy="2032" rx="12" ry="5" fill="#f6f6f6"/><path d="M1087.6,2103.5 L1087.9,2096 L1089,2088.6 L1091,2081.6 L1093.9,2074.9 L1097.5,2068.7 L1101.9,2063.2 L1106.9,2058.4 L1112.5,2054.4 L1118.6,2051.2 L1125,2049 L1131.7,2047.7 L1138.5,2047.4 L1145.4,2048.1 L1152.1,2049.8 L1188.1,2063.8 L1194.7,2066.4 L1200.9,2069.9 L1206.7,2074.2 L1212,2079.3 L1216.7,2085.1 L1220.6,2091.5 L1223.8,2098.3 L1226.2,2105.5 L1227.8,2113 L1228.4,2120.5 L1228.1,2128 L1227,2135.4 L1225,2142.4 L1222.1,2149.1 L1218.5,2155.3 L1214.1,2160.8 L1209.1,2165.6 L1203.5,2169.6 L1197.4,2172.8 L1191,2175 L1184.3,2176.3 L1177.5,2176.6 L1170.6,2175.9 L1163.9,2174.2 L1127.9,2160.2 L1121.3,2157.6 L1115.1,2154.1 L1109.3,2149.8 L1104,2144.7 L1099.3,2138.9 L1095.4,2132.5 L1092.2,2125.7 L1089.8,2118.5 L1088.2,2111 Z" fill="url(#knurl)"/><path d="M1087.6,2103.5 L1087.9,2096 L1089,2088.6 L1091,2081.6 L1093.9,2074.9 L1097.5,2068.7 L1101.9,2063.2 L1106.9,2058.4 L1112.5,2054.4 L1118.6,2051.2 L1125,2049 L1131.7,2047.7 L1138.5,2047.4 L1145.4,2048.1 L1152.1,2049.8 L1188.1,2063.8 L1194.7,2066.4 L1200.9,2069.9 L1206.7,2074.2 L1212,2079.3 L1216.7,2085.1 L1220.6,2091.5 L1223.8,2098.3 L1226.2,2105.5 L1227.8,2113 L1228.4,2120.5 L1228.1,2128 L1227,2135.4 L1225,2142.4 L1222.1,2149.1 L1218.5,2155.3 L1214.1,2160.8 L1209.1,2165.6 L1203.5,2169.6 L1197.4,2172.8 L1191,2175 L1184.3,2176.3 L1177.5,2176.6 L1170.6,2175.9 L1163.9,2174.2 L1127.9,2160.2 L1121.3,2157.6 L1115.1,2154.1 L1109.3,2149.8 L1104,2144.7 L1099.3,2138.9 L1095.4,2132.5 L1092.2,2125.7 L1089.8,2118.5 L1088.2,2111 Z" fill="#e8e8e8" opacity="0.35"/><g stroke="#c2c2c2" stroke-width="1.5" fill="none"><ellipse cx="1149" cy="2108.5" rx="52" ry="58" transform="rotate(-15 1149 2108.5)" fill="none"/><ellipse cx="1158" cy="2112" rx="52" ry="58" transform="rotate(-15 1158 2112)" fill="none"/><ellipse cx="1167" cy="2115.5" rx="52" ry="58" transform="rotate(-15 1167 2115.5)" fill="none"/></g><ellipse cx="1176" cy="2119" rx="53" ry="58" transform="rotate(-15 1176 2119)" fill="#f4f4f4"/><ellipse cx="1175" cy="2120" rx="45" ry="49" transform="rotate(-15 1175 2120)" fill="#e3e3e3"/><path d="M1160,2072 A45,49 -15 0 1 1218,2125" stroke="#a8a8a8" stroke-width="2" fill="none"/>
<rect x="1327" y="1982" width="24" height="34" rx="8" fill="#e6e6e6"/><ellipse cx="1339" cy="1985" rx="12" ry="5" fill="#f6f6f6"/><path d="M1265.6,2056.5 L1265.9,2049 L1267,2041.6 L1269,2034.6 L1271.9,2027.9 L1275.5,2021.7 L1279.9,2016.2 L1284.9,2011.4 L1290.5,2007.4 L1296.6,2004.2 L1303,2002 L1309.7,2000.7 L1316.5,2000.4 L1323.4,2001.1 L1330.1,2002.8 L1366.1,2016.8 L1372.7,2019.4 L1378.9,2022.9 L1384.7,2027.2 L1390,2032.3 L1394.7,2038.1 L1398.6,2044.5 L1401.8,2051.3 L1404.2,2058.5 L1405.8,2066 L1406.4,2073.5 L1406.1,2081 L1405,2088.4 L1403,2095.4 L1400.1,2102.1 L1396.5,2108.3 L1392.1,2113.8 L1387.1,2118.6 L1381.5,2122.6 L1375.4,2125.8 L1369,2128 L1362.3,2129.3 L1355.5,2129.6 L1348.6,2128.9 L1341.9,2127.2 L1305.9,2113.2 L1299.3,2110.6 L1293.1,2107.1 L1287.3,2102.8 L1282,2097.7 L1277.3,2091.9 L1273.4,2085.5 L1270.2,2078.7 L1267.8,2071.5 L1266.2,2064 Z" fill="url(#knurl)"/><path d="M1265.6,2056.5 L1265.9,2049 L1267,2041.6 L1269,2034.6 L1271.9,2027.9 L1275.5,2021.7 L1279.9,2016.2 L1284.9,2011.4 L1290.5,2007.4 L1296.6,2004.2 L1303,2002 L1309.7,2000.7 L1316.5,2000.4 L1323.4,2001.1 L1330.1,2002.8 L1366.1,2016.8 L1372.7,2019.4 L1378.9,2022.9 L1384.7,2027.2 L1390,2032.3 L1394.7,2038.1 L1398.6,2044.5 L1401.8,2051.3 L1404.2,2058.5 L1405.8,2066 L1406.4,2073.5 L1406.1,2081 L1405,2088.4 L1403,2095.4 L1400.1,2102.1 L1396.5,2108.3 L1392.1,2113.8 L1387.1,2118.6 L1381.5,2122.6 L1375.4,2125.8 L1369,2128 L1362.3,2129.3 L1355.5,2129.6 L1348.6,2128.9 L1341.9,2127.2 L1305.9,2113.2 L1299.3,2110.6 L1293.1,2107.1 L1287.3,2102.8 L1282,2097.7 L1277.3,2091.9 L1273.4,2085.5 L1270.2,2078.7 L1267.8,2071.5 L1266.2,2064 Z" fill="#e8e8e8" opacity="0.35"/><g stroke="#c2c2c2" stroke-width="1.5" fill="none"><ellipse cx="1327" cy="2061.5" rx="52" ry="58" transform="rotate(-15 1327 2061.5)" fill="none"/><ellipse cx="1336" cy="2065" rx="52" ry="58" transform="rotate(-15 1336 2065)" fill="none"/><ellipse cx="1345" cy="2068.5" rx="52" ry="58" transform="rotate(-15 1345 2068.5)" fill="none"/></g><ellipse cx="1354" cy="2072" rx="53" ry="58" transform="rotate(-15 1354 2072)" fill="#f4f4f4"/><ellipse cx="1353" cy="2073" rx="45" ry="49" transform="rotate(-15 1353 2073)" fill="#e3e3e3"/><path d="M1338,2025 A45,49 -15 0 1 1396,2078" stroke="#a8a8a8" stroke-width="2" fill="none"/>
  <circle cx="333" cy="1836" r="6" fill="#b8b8b8"/>
  <path d="M661,1827 Q661,1836 661,1842" stroke="#8b98a8" stroke-width="2"/>
  <circle cx="661" cy="1837" r="6" fill="#8b98a8"/>
  <path d="M382,2078 V2250" stroke="#c9c9c9" stroke-width="2" stroke-dasharray="12,6.5" fill="none"/>
  <circle cx="382" cy="2068" r="6" fill="#b8b8b8"/>
  <path d="M1040,1934 V2250" stroke="#9a9a9a" stroke-width="2.5" stroke-dasharray="12,6.5" fill="none"/>
  <circle cx="1040" cy="1925" r="6" fill="#a8a8a8"/>

<rect x="1499" y="377" width="1" height="1873" fill="#cfcfcf"/>
</svg>
</body></html>
